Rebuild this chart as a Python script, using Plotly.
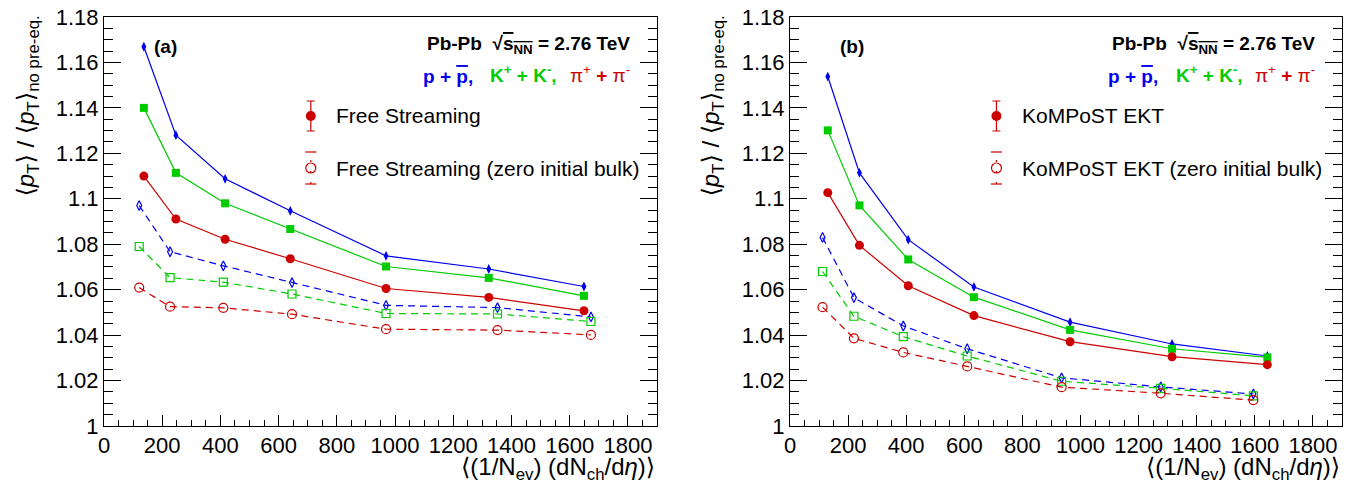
import plotly.graph_objects as go

# ---------------- data ----------------
# Panel (a): Free Streaming
a_x_full = [137, 247, 416, 640, 969, 1322, 1649]
a_x_zero = [121, 227, 410, 646, 969, 1352, 1673]
a_p_full = [1.1669, 1.1280, 1.1088, 1.0947, 1.0749, 1.0691, 1.0614]
a_k_full = [1.1400, 1.1114, 1.0980, 1.0867, 1.0702, 1.0652, 1.0573]
a_pi_full = [1.1100, 1.0911, 1.0822, 1.0736, 1.0605, 1.0566, 1.0507]
a_p_zero = [1.0970, 1.0767, 1.0705, 1.0631, 1.0531, 1.0521, 1.0480]
a_k_zero = [1.0790, 1.0653, 1.0633, 1.0581, 1.0495, 1.0493, 1.0460]
a_pi_zero = [1.0609, 1.0525, 1.0520, 1.0492, 1.0426, 1.0422, 1.0401]

# Panel (b): KoMPoST EKT
b_x_full = [130, 239, 407, 633, 964, 1315, 1643]
b_x_zero = [112, 220, 390, 610, 935, 1276, 1595]
b_p_full = [1.1538, 1.1114, 1.0820, 1.0612, 1.0457, 1.0361, 1.0308]
b_k_full = [1.1301, 1.0971, 1.0733, 1.0567, 1.0423, 1.0340, 1.0302]
b_pi_full = [1.1027, 1.0795, 1.0617, 1.0486, 1.0371, 1.0305, 1.0270]
b_p_zero = [1.0830, 1.0565, 1.0440, 1.0340, 1.0212, 1.0172, 1.0141]
b_k_zero = [1.0680, 1.0483, 1.0393, 1.0308, 1.0197, 1.0166, 1.0133]
b_pi_zero = [1.0523, 1.0386, 1.0324, 1.0262, 1.0171, 1.0144, 1.0114]

x_ticks = [0, 200, 400, 600, 800, 1000, 1200, 1400, 1600, 1800]
x_ticktext = ["0", "200", "400", "600", "800", "1000", "1200", "1400", "1600", "1800"]
y_ticks = [1.0, 1.02, 1.04, 1.06, 1.08, 1.1, 1.12, 1.14, 1.16, 1.18]
y_ticktext = ["1", "1.02", "1.04", "1.06", "1.08", "1.1", "1.12", "1.14", "1.16", "1.18"]

panel_labels = ["(a)", "(b)"]
legend_full = ["Free Streaming", "KoMPoST EKT"]
legend_zero = ["Free Streaming (zero initial bulk)", "KoMPoST EKT (zero initial bulk)"]

XR = [0, 1900]
YR = [1.0, 1.18]

BLUE = "#0000ee"
GREEN = "#00cc00"
RED = "#cc0000"
FONT = "Liberation Sans, Arial, Helvetica, DejaVu Sans, sans-serif"

W, H = 1364, 485
# plot-area pixel boxes
L1, R1 = 104, 657
L2, R2 = 790, 1342
TOP, BOT = 17, 426

fig = go.Figure()

panels = [
    ("x", "y", a_x_full, a_x_zero, a_p_full, a_k_full, a_pi_full, a_p_zero, a_k_zero, a_pi_zero),
    ("x2", "y2", b_x_full, b_x_zero, b_p_full, b_k_full, b_pi_full, b_p_zero, b_k_zero, b_pi_zero),
]

for xa, ya, xf, xz, pf, kf, pif, pz, kz, piz in panels:
    # full (solid) series
    for yv, col, sym, sz in [(pf, BLUE, "diamond-tall", 7), (kf, GREEN, "square", 8), (pif, RED, "circle", 9)]:
        fig.add_trace(go.Scatter(
            x=xf, y=yv, xaxis=xa, yaxis=ya, mode="lines+markers",
            line=dict(color=col, width=1.2),
            marker=dict(symbol=sym, size=sz, color=col, line=dict(width=0)),
            showlegend=False, cliponaxis=False))
    # zero initial bulk (dashed, open markers)
    for yv, col, sym, sz in [(pz, BLUE, "diamond-tall-open", 7), (kz, GREEN, "square-open", 8), (piz, RED, "circle-open", 9)]:
        fig.add_trace(go.Scatter(
            x=xz, y=yv, xaxis=xa, yaxis=ya, mode="lines+markers",
            line=dict(color=col, width=1.2, dash="7px,5px"),
            marker=dict(symbol=sym, size=sz, color=col, line=dict(width=1.2, color=col)),
            showlegend=False, cliponaxis=False))

# legend glyphs (drawn in axis-domain fractions converted to data units)
def fx(f):
    return XR[0] + f * (XR[1] - XR[0])

def fy(f):
    return YR[0] + f * (YR[1] - YR[0])

leg_y1 = (BOT - 116) / (BOT - TOP)
leg_y2 = (BOT - 168) / (BOT - TOP)
err1 = 15 / (BOT - TOP) * (YR[1] - YR[0])
err2 = 16 / (BOT - TOP) * (YR[1] - YR[0])

for i, (xa, ya) in enumerate([("x", "y"), ("x2", "y2")]):
    gx = fx(0.374)
    fig.add_trace(go.Scatter(
        x=[gx], y=[fy(leg_y1)], xaxis=xa, yaxis=ya, mode="markers",
        marker=dict(symbol="circle", size=10, color=RED),
        error_y=dict(type="constant", value=err1, color=RED, thickness=1.2, width=4),
        showlegend=False))
    # dashed error bar for open marker, with caps
    fig.add_trace(go.Scatter(
        x=[gx, gx], y=[fy(leg_y2) - err2, fy(leg_y2) + err2], xaxis=xa, yaxis=ya,
        mode="lines", line=dict(color=RED, width=1.2, dash="2px,9px"),
        showlegend=False))
    fig.add_trace(go.Scatter(
        x=[gx, gx], y=[fy(leg_y2) - err2, fy(leg_y2) + err2], xaxis=xa, yaxis=ya,
        mode="markers", marker=dict(symbol="line-ew", size=8, color=RED,
                                    line=dict(width=1.2, color=RED)),
        showlegend=False))
    fig.add_trace(go.Scatter(
        x=[gx], y=[fy(leg_y2)], xaxis=xa, yaxis=ya, mode="markers",
        marker=dict(symbol="circle-open", size=10, color=RED, line=dict(width=1.2, color=RED)),
        showlegend=False))

axis_common = dict(
    showgrid=False, zeroline=False, showline=True, linecolor="black", linewidth=1,
    ticks="inside", tickcolor="black", tickwidth=1, automargin=False,
    tickfont=dict(family=FONT, size=22, color="black"),
)

fig.update_layout(
    width=W, height=H,
    margin=dict(l=0, r=0, t=0, b=0, autoexpand=False),
    paper_bgcolor="white", plot_bgcolor="white",
    showlegend=False,
    font=dict(family=FONT, color="black"),
)

ydom = [1 - BOT / H, 1 - TOP / H]
for n, (L, R) in zip(["", "2"], [(L1, R1), (L2, R2)]):
    fig.update_layout(**{
        "xaxis" + n: dict(
            axis_common, domain=[L / W, R / W], range=XR, anchor="y" + n,
            tickmode="array", tickvals=x_ticks, ticktext=x_ticktext, ticklen=11,
            mirror=True,
            minor=dict(tickmode="linear", tick0=0, dtick=50, ticklen=6, ticks="inside",
                       tickcolor="black", tickwidth=1),
        ),
        "yaxis" + n: dict(
            axis_common, domain=ydom, range=YR, anchor="x" + n,
            tickmode="array", tickvals=y_ticks, ticktext=y_ticktext, ticklen=17,
            mirror="ticks",
            minor=dict(tickmode="linear", tick0=1.0, dtick=0.005, ticklen=9, ticks="inside",
                       tickcolor="black", tickwidth=1),
        ),
    })

ann = []
ytitle = "⟨<i>p</i><sub>T</sub>⟩ / ⟨<i>p</i><sub>T</sub>⟩<sub>no pre-eq.</sub>"
xtitle = "⟨(1/N<sub>ev</sub>) (dN<sub>ch</sub>/d<i>η</i>)⟩"

for i, (n, L, R, ytx) in enumerate([("", L1, R1, 27), ("2", L2, R2, 712)]):
    xd = "x" + n + " domain" if n else "x domain"
    yd = "y" + n + " domain" if n else "y domain"
    dy = lambda py: (BOT - py) / (BOT - TOP)
    # panel label
    ann.append(dict(text="<b>" + panel_labels[i] + "</b>", xref=xd, yref=yd, x=0.087, y=dy(46),
                    xanchor="left", yanchor="middle", showarrow=False,
                    font=dict(family=FONT, size=19, color="black")))
    # system
    ann.append(dict(text="<b>Pb-Pb  √<span style='text-decoration:overline'>s<sub>NN</sub></span> = 2.76 TeV</b>",
                    xref=xd, yref=yd, x=0.955, y=dy(45), xanchor="right", yanchor="middle",
                    showarrow=False, font=dict(family=FONT, size=19, color="black")))
    ann.append(dict(text="<b>p + <span style='text-decoration:overline'>p</span>,</b>", xref=xd, yref=yd,
                    x=0.573, y=dy(76), xanchor="left", yanchor="middle", showarrow=False,
                    font=dict(family=FONT, size=19, color=BLUE)))
    ann.append(dict(text="<b>K<sup>+</sup> + K<sup>-</sup>,</b>", xref=xd, yref=yd,
                    x=0.695, y=dy(74), xanchor="left", yanchor="middle", showarrow=False,
                    font=dict(family=FONT, size=19, color=GREEN)))
    ann.append(dict(text="π<sup>+</sup> <b>+</b> π<sup>-</sup>", xref=xd, yref=yd,
                    x=0.954, y=dy(74), xanchor="right", yanchor="middle", showarrow=False,
                    font=dict(family=FONT, size=19, color=RED)))
    # legend text
    ann.append(dict(text=legend_full[i], xref=xd, yref=yd, x=0.416, y=dy(116),
                    xanchor="left", yanchor="middle", showarrow=False,
                    font=dict(family=FONT, size=21, color="black")))
    ann.append(dict(text=legend_zero[i], xref=xd, yref=yd, x=0.416, y=dy(168),
                    xanchor="left", yanchor="middle", showarrow=False,
                    font=dict(family=FONT, size=21, color="black")))
    # axis titles
    ann.append(dict(text=ytitle, xref="paper", yref="paper", x=ytx / W, y=1 - 14 / H,
                    xanchor="center", yanchor="top", textangle=-90, showarrow=False,
                    font=dict(family=FONT, size=24, color="black")))
    ann.append(dict(text=xtitle, xref="paper", yref="paper", x=R / W, y=1 - 451 / H,
                    xanchor="right", yanchor="top", showarrow=False,
                    font=dict(family=FONT, size=24, color="black")))

fig.update_layout(annotations=ann)

fig.write_html("out.html", config={"displayModeBar": False},
               post_script="document.body.style.margin='0px';")
